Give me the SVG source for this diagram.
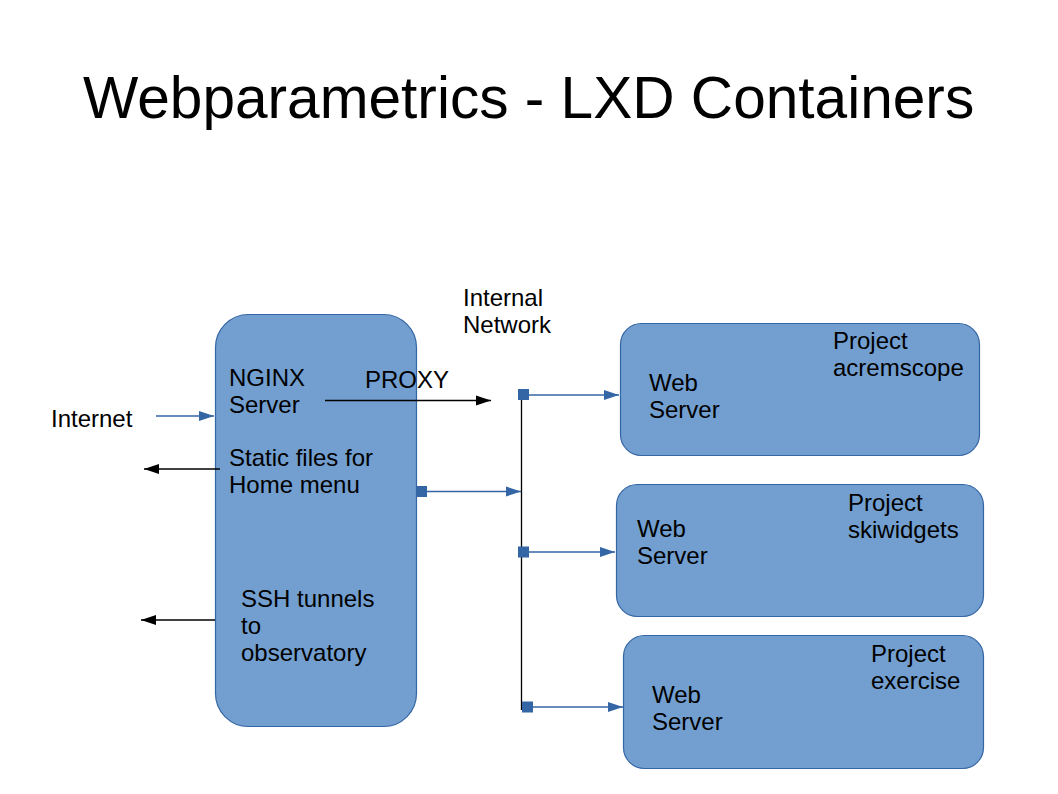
<svg xmlns="http://www.w3.org/2000/svg" width="1058" height="794" viewBox="0 0 1058 794">
<style>
text{font-family:"Liberation Sans",Arial,sans-serif;font-size:24px;fill:#000}
.title{font-size:58.6px}
.box{fill:#729fcf;stroke:#3465a4;stroke-width:1.2}
.blue{stroke:#3465a4;stroke-width:1.3;fill:none}
.black{stroke:#000;stroke-width:1.3;fill:none}
.sq{fill:#3465a4}
</style>
<defs>
<marker id="ab" markerUnits="userSpaceOnUse" markerWidth="16" markerHeight="12" refX="15" refY="5" orient="auto" viewBox="0 0 16 10">
<path d="M0,0 L15,5 L0,10 Z" fill="#3465a4"/>
</marker>
<marker id="ak" markerUnits="userSpaceOnUse" markerWidth="16" markerHeight="12" refX="15" refY="5" orient="auto" viewBox="0 0 16 10">
<path d="M0,0 L15,5 L0,10 Z" fill="#000"/>
</marker>
</defs>
<rect width="1058" height="794" fill="#fff"/>
<text class="title" x="83" y="118">Webparametrics - LXD Containers</text>
<text x="51" y="427">Internet</text>
<text x="463" y="306">Internal</text>
<text x="463" y="333">Network</text>

<g id="nginx">
<rect class="box" x="215.5" y="314.5" width="201" height="412" rx="33" ry="33"/>
<text x="229" y="386">NGINX</text>
<text x="229" y="413">Server</text>
<text x="229" y="466">Static files for</text>
<text x="229" y="493">Home menu</text>
<text x="241" y="607">SSH tunnels</text>
<text x="241" y="634">to</text>
<text x="241" y="661">observatory</text>
</g>
<g id="acremscope">
<rect class="box" x="620.5" y="323.5" width="359" height="132" rx="21" ry="21"/>
<text x="649" y="391">Web</text>
<text x="649" y="418">Server</text>
<text x="833" y="349">Project</text>
<text x="833" y="376">acremscope</text>
</g>
<g id="skiwidgets">
<rect class="box" x="616.5" y="484.5" width="367" height="132" rx="21" ry="21"/>
<text x="637" y="537">Web</text>
<text x="637" y="564">Server</text>
<text x="848" y="511">Project</text>
<text x="848" y="538">skiwidgets</text>
</g>
<g id="exercise">
<rect class="box" x="623.5" y="635.5" width="360" height="133" rx="21" ry="21"/>
<text x="652" y="703">Web</text>
<text x="652" y="730">Server</text>
<text x="871" y="662">Project</text>
<text x="871" y="689">exercise</text>
</g>
<text x="365" y="388">PROXY</text>

<g id="connectors">
<line class="blue" x1="156" y1="416" x2="214" y2="416" marker-end="url(#ab)"/>
<line class="black" x1="220" y1="469" x2="144" y2="469" marker-end="url(#ak)"/>
<line class="black" x1="215" y1="620" x2="141" y2="620" marker-end="url(#ak)"/>
<line class="black" x1="325" y1="400.5" x2="491" y2="400.5" marker-end="url(#ak)"/>
<line class="black" x1="521.5" y1="395" x2="521.5" y2="710"/>
<line class="blue" x1="427" y1="491.5" x2="521" y2="491.5" marker-end="url(#ab)"/>
<line class="blue" x1="529" y1="395" x2="619" y2="395" marker-end="url(#ab)"/>
<line class="blue" x1="528" y1="552" x2="615" y2="552" marker-end="url(#ab)"/>
<line class="blue" x1="533" y1="707" x2="623" y2="707" marker-end="url(#ab)"/>
<rect class="sq" x="518" y="389" width="11" height="11"/>
<rect class="sq" x="518" y="546.5" width="11" height="11"/>
<rect class="sq" x="522" y="701.5" width="11" height="11"/>
<rect class="sq" x="416" y="486" width="11" height="11"/>
</g>
</svg>
